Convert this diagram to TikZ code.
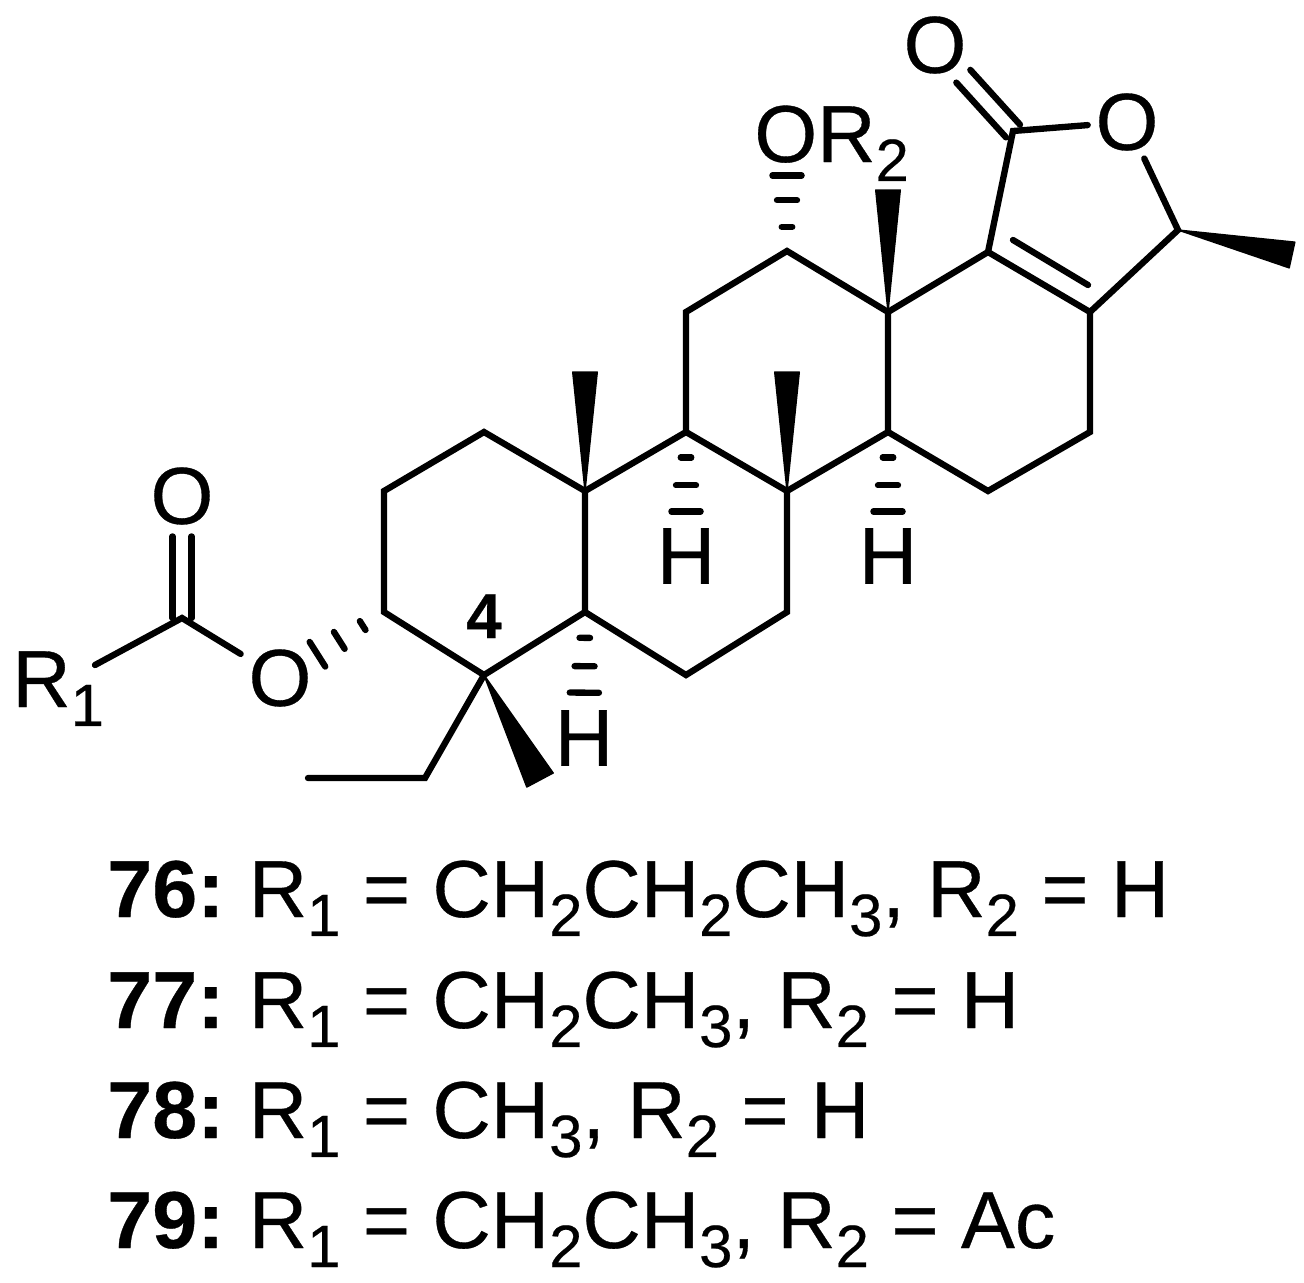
\documentclass[tikz,border=0pt]{standalone}
\usepackage{fontspec}
\setmainfont[FakeBold=0.4]{Liberation Sans}
\usetikzlibrary{calc}
\tikzset{
  bond/.style={line width=3.6pt,line cap=round,line join=miter},
  atom/.style={font=\fontsize{46}{50}\selectfont,inner sep=0pt,outer sep=4.5pt},
  group/.style={font=\fontsize{46}{50}\selectfont,inner sep=0pt,anchor=base west},
  listline/.style={font=\fontsize{46}{50}\selectfont,inner sep=0pt,anchor=base west},
}
\newcommand{\lowr}[1]{\raisebox{-10.8pt}{\fontsize{34}{40}\selectfont #1}}
\newcommand{\wedgebond}[3]{\filldraw[line width=.8pt,line join=round] ($(#1)$) -- ($(#2)!#3!90:(#1)$) -- ($(#2)!#3!-90:(#1)$) -- cycle;}
\newcommand{\hashbond}[2]{
  \foreach \t/\w in {.205/3pt,.43/5.7pt,.64/8.3pt}{
    \coordinate (hm) at ($(#1)!\t!(#2)$);
    \draw[bond] ($(hm)!\w!90:(#2)$) -- ($(hm)!\w!-90:(#2)$);
  }
}
\begin{document}
\begin{tikzpicture}[x=0.02cm,y=-0.02cm]
    \useasboundingbox (0,0) rectangle (1304,1282);
    % carbons begin
    \coordinate (c1) at (484,432);
    \coordinate (c2) at (384,491);
    \coordinate (c3) at (384,612);
    \coordinate (c4) at (484,675);
    \coordinate (c5) at (585,612);
    \coordinate (c6) at (686,675);
    \coordinate (c7) at (787,612);
    \coordinate (c8) at (787,491);
    \coordinate (c9) at (686,432);
    \coordinate (c10) at (585,491);
    \coordinate (c11) at (686,312);
    \coordinate (c12) at (787,251);
    \coordinate (c13) at (888,312);
    \coordinate (c14) at (888,432);
    \coordinate (c15) at (988,491);
    \coordinate (c16) at (1090,432);
    \coordinate (c17) at (1090,312);
    \coordinate (c18) at (988,252);
    \coordinate (c19) at (1013,131);
    \coordinate (c20) at (1178,230);
    \coordinate (et1) at (425,778);
    \coordinate (et2) at (308,778);
    \coordinate (est) at (182,618);
    % carbons end
    % labels begin
    \node[atom] (oa) at (935,45) {O};
    \node[atom] (ob) at (1127,122) {O};
    \node[atom] (oc) at (182,496) {O};
    \node[atom] (od) at (280,678) {O};
    \node[group] (oe) at (754,162) {OR\lowr{2}};
    \node[group] (ra) at (12,707) {R\lowr{1}};
    \node[atom] (ha) at (584,738) {H};
    \node[atom] (hb) at (686,556) {H};
    \node[atom] (hc) at (888,556) {H};
    \node[font=\fontsize{36}{40}\selectfont\bfseries,inner sep=0pt,anchor=base] (no) at (484,638) {4};
    \coordinate (rb) at (95,665);
    % labels end
    % rings begin
    \draw[bond] (c1) -- (c2) -- (c3) -- (c4) -- (c5) -- (c10) -- cycle;
    \draw[bond] (c5) -- (c6) -- (c7) -- (c8) -- (c9) -- (c10);
    \draw[bond] (c9) -- (c11) -- (c12) -- (c13) -- (c14) -- (c8);
    \draw[bond] (c13) -- (c18) -- (c17) -- (c16) -- (c15) -- (c14);
    \draw[bond] (c18) -- (c19) -- (ob);
    \draw[bond] (c17) -- (c20) -- (ob);
    % rings end
    % double bonds begin
    \coordinate (ina) at (1013,240);
    \coordinate (inb) at (1088,285);
    \draw[bond] (ina) -- (inb);
    \draw[bond,shorten >=24pt] ($(c19)!9.5pt*0.567!90:(oa)$) -- ($(oa)!9.5pt*0.567!-90:(c19)$);
    \draw[bond,shorten >=24pt] ($(c19)!9.5pt*0.567!-90:(oa)$) -- ($(oa)!9.5pt*0.567!90:(c19)$);
    \draw[bond,shorten >=23pt] ($(est)!9.5pt*0.567!90:(oc)$) -- ($(oc)!9.5pt*0.567!-90:(est)$);
    \draw[bond,shorten >=23pt] ($(est)!9.5pt*0.567!-90:(oc)$) -- ($(oc)!9.5pt*0.567!90:(est)$);
    % double bonds end
    % side chains begin
    \draw[bond] (rb) -- (est) -- (od);
    \draw[bond] (c4) -- (et1) -- (et2);
    \hashbond{c3}{od}
    \hashbond{c5}{ha}
    \hashbond{c9}{hb}
    \hashbond{c14}{hc}
    \coordinate (oh) at (787,133);
    \hashbond{c12}{oh}
    % side chains end
    % wedges begin
    \coordinate (wa) at (540,780);
    \coordinate (wb) at (585,372);
    \coordinate (wc) at (787,372);
    \coordinate (wd) at (888,190);
    \coordinate (we) at (1292,255);
    \wedgebond{c4}{wa}{8.5pt}
    \wedgebond{c10}{wb}{7pt}
    \wedgebond{c8}{wc}{7pt}
    \wedgebond{c13}{wd}{7pt}
    \wedgebond{c20}{we}{7.5pt}
    % wedges end
    % list begin
    \node[listline] (la) at (107,917) {\textbf{76:}\hspace{-3pt} R\lowr{1} = CH\lowr{2}CH\lowr{2}CH\lowr{3}, R\lowr{2} = H};
    \node[listline] (lb) at (107,1028) {\textbf{77:}\hspace{-3pt} R\lowr{1} = CH\lowr{2}CH\lowr{3}, R\lowr{2} = H};
    \node[listline] (lc) at (107,1138) {\textbf{78:}\hspace{-3pt} R\lowr{1} = CH\lowr{3}, R\lowr{2} = H};
    \node[listline] (ld) at (107,1248) {\textbf{79:}\hspace{-3pt} R\lowr{1} = CH\lowr{2}CH\lowr{3}, R\lowr{2} = Ac};
    % list end
\end{tikzpicture}
\end{document}
